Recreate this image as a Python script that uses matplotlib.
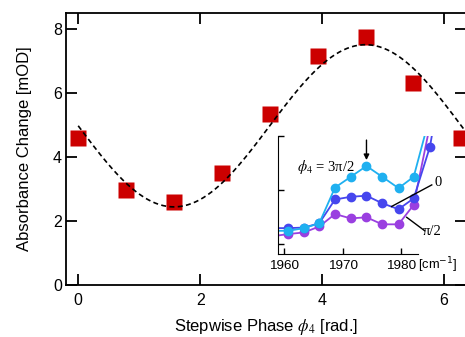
import numpy as np
import matplotlib
matplotlib.use('Agg')
import matplotlib.pyplot as plt
from matplotlib.transforms import blended_transform_factory

plt.rcParams['font.family'] = 'Liberation Sans'
plt.rcParams['mathtext.fontset'] = 'stix'

# main panel: absorbance change vs stepwise phase (steps of pi/4)
phase = [0.0, 0.785, 1.571, 2.356, 3.142, 3.927, 4.712, 5.498, 6.283]
absorb = [4.60, 2.97, 2.58, 3.49, 5.33, 7.17, 7.76, 6.30, 4.58]

# inset: spectra around the 1974 cm-1 band
wn = [1958.0, 1960.7, 1963.4, 1966.0, 1968.7, 1971.4, 1974.1, 1976.8, 1979.6, 1982.2, 1985.0, 1987.7]
sig_3pi2 = [1.25, 1.25, 1.30, 1.39, 2.05, 2.25, 2.45, 2.25, 2.04, 2.25, 3.38, np.nan]
sig_0 = [1.30, 1.30, 1.31, 1.39, 1.83, 1.88, 1.90, 1.76, 1.65, 1.85, 2.81, 4.54]
sig_pi2 = [1.15, 1.19, 1.22, 1.33, 1.56, 1.48, 1.50, 1.37, 1.37, 1.73, 3.21, np.nan]

# sinusoidal fit a + c sin(phi)
ph = np.array(phase)
A = np.column_stack([np.ones_like(ph), np.sin(ph)])
coef = np.linalg.lstsq(A, np.array(absorb), rcond=None)[0]
xf = np.linspace(0, 6.4, 300)
yf = coef[0] + coef[1] * np.sin(xf)

fig = plt.figure(figsize=(4.65, 3.37), dpi=100)
ax = fig.add_axes([66 / 465, 52 / 337, 400 / 465, 272 / 337])
ax.plot(phase, absorb, 's', color='#CC0000', ms=12, mec='none')
ax.plot(xf, yf, color='k', lw=1.2, ls=(0, (3, 2)))
ax.set_xlim(-0.2, 6.36)
ax.set_ylim(0, 8.5)
ax.set_xticks([0, 2, 4, 6])
ax.set_yticks([0, 2, 4, 6, 8])
ax.tick_params(direction='in', top=True, right=True, length=8, width=1.3, labelsize=11.5)
ax.tick_params(axis='x', pad=6)
ax.tick_params(axis='y', pad=3)
for s in ax.spines.values():
    s.set_linewidth(1.3)
ax.set_xlabel(r'Stepwise Phase $\phi_4$ [rad.]', fontsize=12, labelpad=6)
ax.set_ylabel('Absorbance Change [mOD]', fontsize=12, labelpad=15)

# inset
axi = fig.add_axes([277.7 / 465, 82.7 / 337, 169.8 / 465, 118 / 337], facecolor='none')
axi.plot(wn, sig_pi2, '-o', color='#9A3FE0', ms=6, lw=1.3)
axi.plot(wn, sig_0, '-o', color='#4646EE', ms=6, lw=1.3)
axi.plot(wn, sig_3pi2, '-o', color='#1FB0F0', ms=6, lw=1.3)
axi.set_xlim(1958.87, 1988)
axi.set_ylim(0.815, 3.0)
axi.spines['top'].set_visible(False)
axi.spines['right'].set_visible(False)
axi.spines['bottom'].set_bounds(1958.87, 1982.9)
axi.set_xticks([1960, 1970, 1980])
axi.set_yticks([1, 2, 3])
axi.set_yticklabels([])
axi.tick_params(direction='in', length=4, width=1, labelsize=9.7, pad=4)

tr = blended_transform_factory(axi.transData, axi.transAxes)
axi.text(1983.0, -0.13, '[cm$^{-1}$]', transform=tr, fontsize=9.3, va='baseline',
         ha='left', math_fontfamily='dejavusans')

serif = 'Liberation Serif'
axi.text(1972.1, 2.44, r'$\phi_4$ = 3π/2', fontsize=10.5, family=serif, ha='right', va='center')
axi.text(1986.4, 2.14, '0', fontsize=10.5, family=serif, ha='center', va='center')
axi.text(1985.3, 1.23, 'π/2', fontsize=10.5, family=serif, ha='center', va='center')
axi.plot([1985.3, 1978.4], [2.10, 1.70], color='k', lw=1)
axi.plot([1981.0, 1984.1], [1.50, 1.25], color='k', lw=1)
axi.annotate('', xy=(1974.1, 2.56), xytext=(1974.1, 2.93),
             arrowprops=dict(arrowstyle='-|>', color='k', lw=1, mutation_scale=8,
                             shrinkA=0, shrinkB=0))

fig.savefig('out.png', dpi=100)
